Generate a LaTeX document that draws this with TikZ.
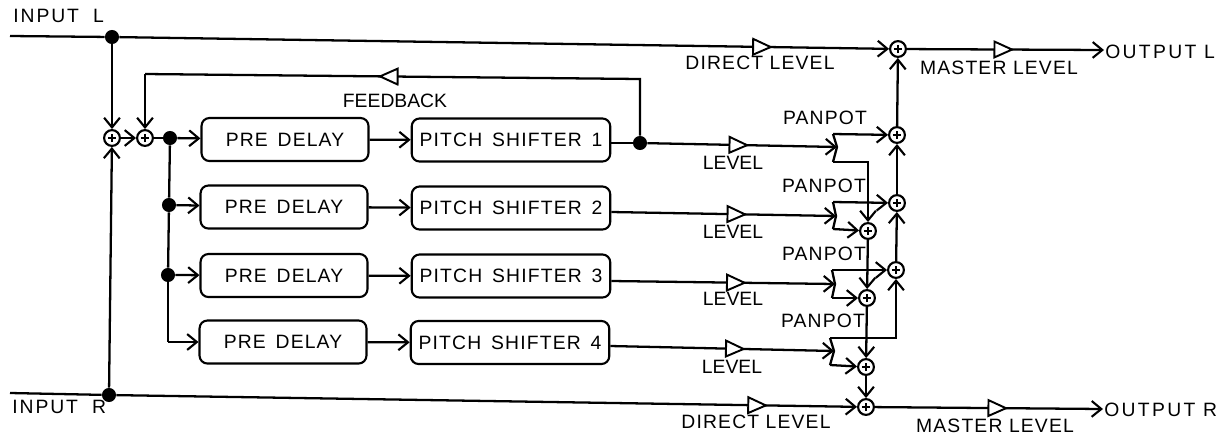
\documentclass[tikz,border=0pt]{standalone}
\usepackage{fontspec}
\setmainfont{Liberation Sans}
\usetikzlibrary{arrows.meta, shapes.geometric}

\tikzset{
  wire/.style={line width=1.3pt},
  sumnode/.style={circle, draw, fill=white, line width=1.2pt, minimum size=9pt, inner sep=0pt,
    path picture={\draw[line width=0.8pt] ([xshift=-2.4pt]path picture bounding box.center) -- ([xshift=2.4pt]path picture bounding box.center)
      ([yshift=-2.4pt]path picture bounding box.center) -- ([yshift=2.4pt]path picture bounding box.center);}},
  joint/.style={circle, fill=black, minimum size=8pt, inner sep=0pt},
  delaybox/.style={draw, line width=1.2pt, rounded corners=4.5pt, minimum width=95pt, minimum height=24.5pt, inner sep=0pt, boxlabel},
  shiftbox/.style={draw, line width=1.2pt, rounded corners=4.5pt, minimum width=113pt, minimum height=24.5pt, inner sep=0pt, boxlabel},
  levelamp/.style={isosceles triangle, isosceles triangle stretches, draw, fill=white, line width=1.1pt,
    minimum width=9pt, minimum height=10pt, inner sep=0pt, sloped, allow upside down},
  plainlabel/.style={font=\fontsize{11}{11}\selectfont, inner sep=0pt},
  label/.style={font=\fontsize{11}{11}\selectfont\addfontfeature{LetterSpace=6}, inner sep=0pt},
  boxlabel/.style={font=\fontsize{11}{11}\selectfont\addfontfeature{LetterSpace=6}\spaceskip 5.6pt\relax, inner sep=0pt},
  widelabel/.style={font=\fontsize{11}{11}\selectfont\addfontfeature{LetterSpace=12}, inner sep=0pt},
  inputlabel/.style={font=\fontsize{11}{11}\selectfont\addfontfeature{LetterSpace=10}\spaceskip 8pt\relax, inner sep=0pt}
}

\begin{document}
\begin{tikzpicture}[x=0.02cm, y=-0.02cm, >={Straight Barb[length=5.5pt,width=9pt,line width=1.2pt]}]
  \useasboundingbox (0,0) rectangle (1231,437);
  % Inputs and outputs
  \coordinate (inL) at (10,36);
  \coordinate (inR) at (10,393);
  \coordinate (outL) at (1104,50);
  \coordinate (outR) at (1103,409);
  \node[joint] (jL) at (112,37) {};
  \node[joint] (jR) at (109,395) {};
  % Mixers on the input side
  \node[sumnode] (sumIn) at (112,138) {};
  \node[sumnode] (sumFb) at (145,138) {};
  \node[joint] (jA) at (170,138) {};
  \node[joint] (jB) at (169,205) {};
  \node[joint] (jC) at (168,275) {};
  \coordinate (jD) at (168,342);
  % Delay and pitch blocks
  \node[delaybox] (delayA) at (285,139.5) {PRE DELAY};
  \node[delaybox] (delayB) at (284,207) {PRE DELAY};
  \node[delaybox] (delayC) at (284,275.5) {PRE DELAY};
  \node[delaybox] (delayD) at (283,342) {PRE DELAY};
  \node[shiftbox] (shiftA) at (511,140) {PITCH SHIFTER 1};
  \node[shiftbox] (shiftB) at (511,208) {PITCH SHIFTER 2};
  \node[shiftbox] (shiftC) at (511,276) {PITCH SHIFTER 3};
  \node[shiftbox] (shiftD) at (510,342.5) {PITCH SHIFTER 4};
  % Mixers on the output side
  \node[sumnode] (sumTop) at (898,49) {};
  \node[sumnode] (sumLa) at (897,135) {};
  \node[sumnode] (sumLb) at (897,203) {};
  \node[sumnode] (sumLc) at (896,270) {};
  \node[sumnode] (sumRa) at (868,231) {};
  \node[sumnode] (sumRb) at (867,298) {};
  \node[sumnode] (sumRc) at (866,367) {};
  \node[sumnode] (sumBot) at (866,407) {};
  % Panpot outlines
  \coordinate (panAt) at (833,134);
  \coordinate (panAn) at (837,147);
  \coordinate (panAb) at (833,162);
  \coordinate (panBt) at (833,202);
  \coordinate (panBn) at (836,216);
  \coordinate (panBb) at (833,229);
  \coordinate (panCt) at (832,270);
  \coordinate (panCn) at (835,284);
  \coordinate (panCb) at (832,298);
  \coordinate (panDt) at (830,338);
  \coordinate (panDn) at (834,351);
  \coordinate (panDb) at (830,365);
  \node[joint] (jFb) at (640,143) {};
  \coordinate (fbRight) at (640,79);
  \coordinate (fbLeft) at (145,74);
  % Direct paths
  \draw[wire] (inL) -- (jL);
  \draw[wire, ->] (jL) -- node[levelamp, pos=0.83] (ampDirL) {} (sumTop);
  \draw[wire] (inR) -- (jR);
  \draw[wire, ->] (jR) -- node[levelamp, pos=0.86] (ampDirR) {} (sumBot);
  \draw[wire, ->] (jL) -- (sumIn);
  \draw[wire, ->] (jR) -- (sumIn);
  \draw[wire, ->] (sumIn) -- (sumFb);
  \draw[wire] (sumFb) -- (jA);
  \draw[wire] (jA) -- (jB);
  \draw[wire] (jB) -- (jC);
  \draw[wire] (jC) -- (jD);
  % Block chain
  \draw[wire, ->] (jA) -- (delayA);
  \draw[wire, ->] (jB) -- (delayB);
  \draw[wire, ->] (jC) -- (delayC);
  \draw[wire, ->] (jD) -- (delayD);
  \draw[wire, ->] (delayA) -- (shiftA);
  \draw[wire, ->] (delayB) -- (shiftB);
  \draw[wire, ->] (delayC) -- (shiftC);
  \draw[wire, ->] (delayD) -- (shiftD);
  % Feedback
  \draw[wire] (shiftA.east |- jFb) -- (jFb);
  \draw[wire] (jFb) -- (fbRight) -- node[levelamp, pos=0.5] (ampFb) {} (fbLeft);
  \draw[wire, ->] (fbLeft) -- (sumFb);
  % Level paths
  \draw[wire, ->] (jFb) -- node[levelamp, pos=0.46] (ampA) {} (panAn);
  \draw[wire, ->] (shiftB.east |- 0,212) -- node[levelamp, pos=0.54] (ampB) {} (panBn);
  \draw[wire, ->] (shiftC.east |- 0,281) -- node[levelamp, pos=0.54] (ampC) {} (panCn);
  \draw[wire, ->] (shiftD.east |- 0,346) -- node[levelamp, pos=0.54] (ampD) {} (panDn);
  % Panpots
  \draw[wire] (panAt) -- (panAn) -- (panAb);
  \draw[wire] (panBt) -- (panBn) -- (panBb);
  \draw[wire] (panCt) -- (panCn) -- (panCb);
  \draw[wire] (panDt) -- (panDn) -- (panDb);
  \draw[wire, ->] (panAt) -- (sumLa);
  \draw[wire, ->] (panBt) -- (sumLb);
  \draw[wire, ->] (panCt) -- (sumLc);
  \draw[wire, ->] (panDt) -| (sumLc);
  \draw[wire, ->] (panAb) -| (sumRa);
  \draw[wire, ->] (panBb) -- (sumRa);
  \draw[wire, ->] (panCb) -- (sumRb);
  \draw[wire, ->] (panDb) -- (sumRc);
  % Output busses
  \draw[wire, ->] (sumLc) -- (sumLb);
  \draw[wire, ->] (sumLb) -- (sumLa);
  \draw[wire, ->] (sumLa) -- (sumTop);
  \draw[wire, ->] (sumRa) -- (sumRb);
  \draw[wire, ->] (sumRb) -- (sumRc);
  \draw[wire, ->] (sumRc) -- (sumBot);
  \draw[wire, ->] (sumTop) -- node[levelamp, pos=0.47] (ampMasL) {} (outL);
  \draw[wire, ->] (sumBot) -- node[levelamp, pos=0.52] (ampMasR) {} (outR);
  % Labels
  \node[inputlabel, anchor=west] (txtInL) at (13,16) {INPUT L};
  \node[inputlabel, anchor=west] (txtInR) at (12,407) {INPUT R};
  \node[widelabel, anchor=west] (txtOutL) at (1105,52) {OUTPUT L};
  \node[widelabel, anchor=west] (txtOutR) at (1104,410) {OUTPUT R};
  \node[label] (txtDirL) at (760,63) {DIRECT LEVEL};
  \node[label] (txtDirR) at (756,422) {DIRECT LEVEL};
  \node[label] (txtMasL) at (999,68) {MASTER LEVEL};
  \node[label] (txtMasR) at (995,426) {MASTER LEVEL};
  \node[plainlabel] (txtFb) at (395,101) {FEEDBACK};
  \node[label] (txtPanA) at (825,118) {PANPOT};
  \node[label] (txtPanB) at (824,186) {PANPOT};
  \node[label] (txtPanC) at (824,254) {PANPOT};
  \node[label] (txtPanD) at (823,321) {PANPOT};
  \node[plainlabel] (txtLevA) at (733,163) {LEVEL};
  \node[plainlabel] (txtLevB) at (733,232) {LEVEL};
  \node[plainlabel] (txtLevC) at (733,299) {LEVEL};
  \node[plainlabel] (txtLevD) at (732,367) {LEVEL};
\end{tikzpicture}
\end{document}
